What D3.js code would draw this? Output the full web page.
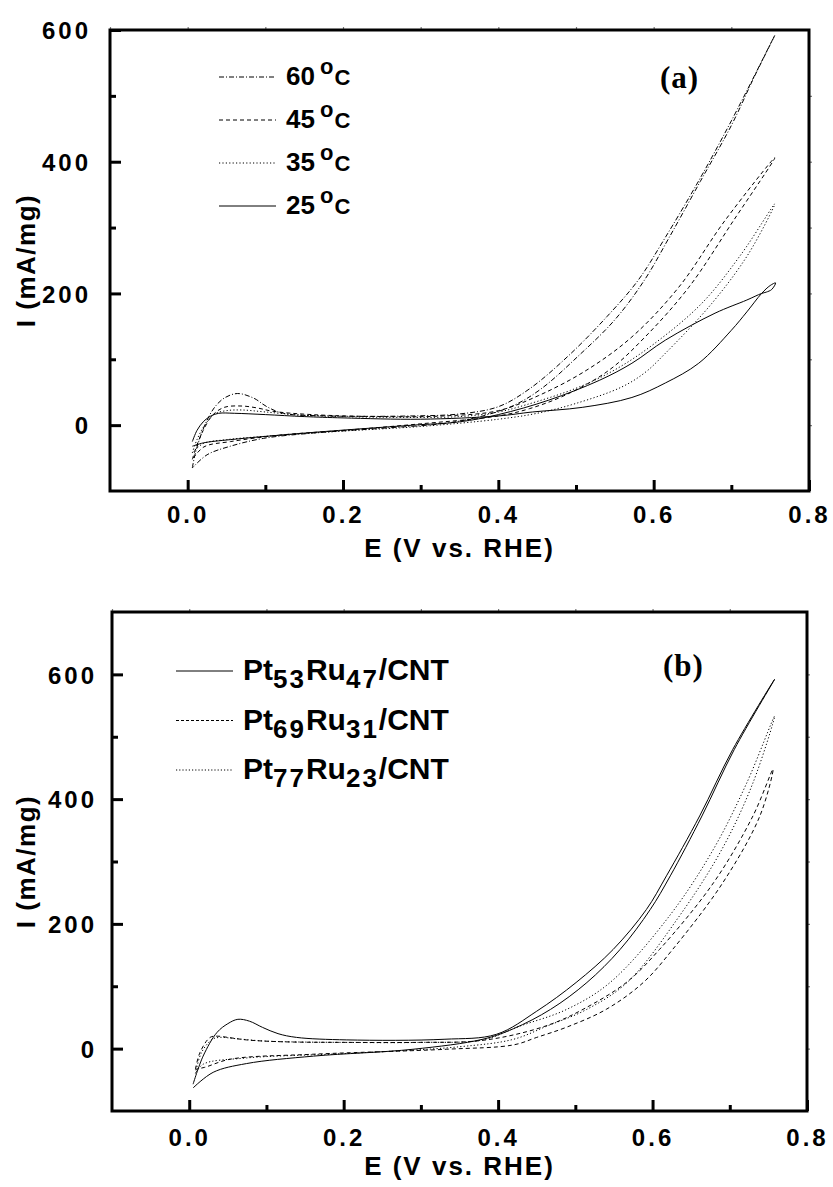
<!DOCTYPE html>
<html>
<head>
<meta charset="utf-8">
<script src="https://cdn.jsdelivr.net/npm/d3@7"></script>
<style>
body { margin: 0; background: #fff; }
svg text { font-family: Arial, "Liberation Sans", sans-serif; font-weight: bold; fill: #000; }
</style>
</head>
<body>
<svg width="833" height="1187"></svg>
<script>
const svg = d3.select("svg")

// ---- panel (a): CV loops at different temperatures, points are [E, I]
const tempLabels = ["60", "45", "35", "25"]

const cv60 = [[0.006,-65],[0.010,-42],[0.021,-3],[0.034,26],[0.047,41],[0.064,48],[0.085,41],[0.102,28],[0.123,18],[0.18,14],[0.29,14],[0.35,17],[0.40,28],[0.44,55],[0.49,105],[0.54,165],[0.58,220],[0.615,285],[0.658,371],[0.70,462],[0.756,592],
  [0.73,530],[0.70,455],[0.66,370],[0.62,285],[0.588,220],[0.55,160],[0.503,105],[0.455,55],[0.42,30],[0.38,14],[0.333,3],[0.247,-5],[0.162,-12],[0.098,-20],[0.055,-32],[0.025,-45],[0.006,-65]]

const cv45 = [[0.006,-52],[0.012,-30],[0.02,-8],[0.032,15],[0.047,27],[0.07,29],[0.09,26],[0.11,21],[0.16,16],[0.25,13],[0.33,14],[0.40,22],[0.452,45],[0.513,83],[0.572,134],[0.632,209],[0.692,311],[0.756,406],
  [0.703,311],[0.645,209],[0.589,134],[0.542,83],[0.487,46],[0.44,25],[0.40,14],[0.30,2],[0.20,-8],[0.12,-15],[0.055,-25],[0.021,-33],[0.006,-52]]

const cv35 = [[0.006,-42],[0.012,-22],[0.022,0],[0.035,17],[0.05,22],[0.07,23],[0.10,20],[0.15,15],[0.25,12],[0.35,13],[0.40,20],[0.436,31],[0.50,56],[0.55,84],[0.60,123],[0.662,185],[0.713,260],[0.756,336],
  [0.722,260],[0.675,185],[0.615,109],[0.589,80],[0.559,58],[0.50,33],[0.45,18],[0.40,9],[0.30,-2],[0.20,-9],[0.10,-17],[0.05,-22],[0.02,-28],[0.006,-42]]

const cv25 = [[0.006,-25],[0.012,-8],[0.02,5],[0.03,14],[0.04,18],[0.06,18],[0.10,16],[0.15,13],[0.20,11],[0.30,9],[0.40,14],[0.444,20],[0.508,27],[0.572,42],[0.615,64],[0.658,94],[0.70,144],[0.72,172],[0.739,200],[0.75,212],[0.757,216],
  [0.752,206],[0.745,202],[0.739,200],[0.72,190],[0.679,170],[0.615,129],[0.572,94],[0.53,68],[0.465,38],[0.40,16],[0.35,5],[0.29,0],[0.162,-11],[0.055,-22],[0.02,-27],[0.006,-32]]

// ---- panel (b): CV loops of the three catalysts
const alloyPt = ["53", "69", "77"]
const alloyRu = ["47", "31", "23"]

const cv53 = [[0.005,-57],[0.018,-12],[0.036,26],[0.05,40],[0.063,47],[0.078,44],[0.095,34],[0.115,24],[0.139,18],[0.204,14],[0.33,15],[0.398,23],[0.45,60],[0.501,106],[0.549,159],[0.592,223],[0.618,277],[0.661,373],[0.704,480],[0.758,592],
  [0.706,480],[0.664,373],[0.623,277],[0.597,223],[0.558,159],[0.515,106],[0.468,63],[0.42,32],[0.38,15],[0.29,-1],[0.161,-12],[0.074,-24],[0.031,-38],[0.005,-63]]

const cv69 = [[0.008,-33],[0.014,-6],[0.027,18],[0.036,20],[0.05,18],[0.074,14],[0.12,11],[0.2,10],[0.3,10],[0.37,12],[0.42,22],[0.47,40],[0.51,63],[0.566,106],[0.609,159],[0.679,266],[0.73,373],[0.756,448],
  [0.739,373],[0.691,266],[0.626,159],[0.588,106],[0.54,63],[0.49,35],[0.45,18],[0.42,6],[0.333,-1],[0.16,-9],[0.053,-17],[0.02,-30],[0.008,-33]]

const cv77 = [[0.008,-40],[0.016,-6],[0.03,15],[0.04,18],[0.06,16],[0.1,12],[0.2,10],[0.3,10],[0.38,14],[0.428,36],[0.489,63],[0.545,106],[0.622,213],[0.679,320],[0.722,426],[0.758,533],
  [0.73,426],[0.69,320],[0.635,213],[0.567,106],[0.515,63],[0.463,36],[0.42,15],[0.35,3],[0.2,-8],[0.074,-15],[0.018,-25],[0.008,-40]]

// ticks
const xMajor = [0, 0.2, 0.4, 0.6, 0.8]
const xMinor = [0.1, 0.3, 0.5, 0.7]
const xSmall = [-0.1, 0, 0.1, 0.2, 0.3, 0.4, 0.5, 0.6, 0.7]
const yMajor = [0, 200, 400, 600]
const yMinor = [100, 300, 500]
const ySmallA = [0, 100, 200, 300, 400, 500]
const ySmallB = [0, 100, 200, 300, 400, 500, 600]


function drawPanel(p) {
	const x = d3.scaleLinear().domain([-0.1, 0.8]).range([p.left, p.right])
	const y = d3.scaleLinear().domain(p.yDomain).range([p.bottom, p.top])
	const g = svg.append("g")

	//curves
	const line = d3.line()
		.x(d => x(d[0]))
		.y(d => y(d[1]))
		.curve(d3.curveCatmullRom.alpha(0.5))

	g.selectAll("path.cv")
		.data(p.curves)
		.enter()
		.append("path")
		.attr("class", "cv")
		.attr("d", line)
		.attr("fill", "none")
		.attr("stroke", "#000")
		.attr("stroke-width", 1)
		.attr("stroke-dasharray", (d, i) => p.dashes[i])

	//small marks on top and right
	g.append("g")
		.attr("transform", `translate(0,${p.top})`)
		.call(d3.axisTop(x).tickValues(xSmall).tickSize(3).tickFormat(""))
	g.append("g")
		.attr("transform", `translate(${p.right},0)`)
		.call(d3.axisRight(y).tickValues(p.ySmall).tickSize(3).tickFormat(""))
	g.selectAll(".tick line").attr("stroke", "#777").attr("stroke-width", 1.2)

	//bottom axis
	const xb = g.append("g")
		.attr("transform", `translate(0,${p.bottom})`)
		.call(d3.axisBottom(x).tickValues(xMajor).tickSize(-11).tickFormat(d3.format(".1f")))
	g.append("g")
		.attr("transform", `translate(0,${p.bottom})`)
		.call(d3.axisBottom(x).tickValues(xMinor).tickSize(-6).tickFormat(""))
		.selectAll(".tick line").attr("stroke-width", 3)
	xb.selectAll(".tick line").attr("stroke-width", 3)
	xb.selectAll("text")
		.attr("y", p.xLabelY)
		.attr("dy", 0)
		.attr("font-size", 24)
		.style("letter-spacing", "3px")

	//left axis
	const yl = g.append("g")
		.attr("transform", `translate(${p.left},0)`)
		.call(d3.axisLeft(y).tickValues(yMajor).tickSize(-11).tickFormat(d3.format("d")))
	g.append("g")
		.attr("transform", `translate(${p.left},0)`)
		.call(d3.axisLeft(y).tickValues(yMinor).tickSize(-6).tickFormat(""))
		.selectAll(".tick line").attr("stroke-width", 3)
	yl.selectAll(".tick line").attr("stroke-width", 3)
	yl.selectAll("text")
		.attr("x", -p.yLabelGap)
		.attr("dy", "0.36em")
		.attr("font-size", 24)
		.style("letter-spacing", "3px")

	g.selectAll(".domain").remove()
	g.selectAll("g").attr("font-family", null).attr("font-size", null)

	//frame
	g.append("rect")
		.attr("x", p.left)
		.attr("y", p.top)
		.attr("width", p.right - p.left)
		.attr("height", p.bottom - p.top)
		.attr("fill", "none")
		.attr("stroke", "#000")
		.attr("stroke-width", 3)

	//axis titles
	g.append("text")
		.attr("x", (p.left + p.right) / 2)
		.attr("y", p.xTitleY)
		.attr("text-anchor", "middle")
		.attr("font-size", 26)
		.style("letter-spacing", "2px")
		.text("E (V vs. RHE)")

	g.append("text")
		.attr("transform", `translate(35,${(p.top + p.bottom) / 2}) rotate(-90)`)
		.attr("text-anchor", "middle")
		.attr("font-size", 26)
		.style("letter-spacing", "1.5px")
		.text("I (mA/mg)")

	//panel letter
	g.append("text")
		.attr("x", p.tagX)
		.attr("y", p.tagY)
		.attr("font-size", 31)
		.style("font-family", "'Times New Roman', 'Liberation Serif', serif")
		.style("letter-spacing", "1px")
		.text(p.tag)

	return g
}


//panel (a)
const ga = drawPanel({
	left: 110, right: 809, top: 30, bottom: 491,
	yDomain: [-100, 600], ySmall: ySmallA,
	curves: [cv60, cv45, cv35, cv25],
	dashes: ["5,2,1,2", "4,3", "1.2,2.2", null],
	xLabelY: 32, yLabelGap: 19, xTitleY: 557,
	tag: "(a)", tagX: 660, tagY: 88
})

const legA = ga.selectAll("g.leg")
	.data(tempLabels)
	.enter()
	.append("g")
	.attr("class", "leg")
	.attr("transform", (d, i) => `translate(0,${77 + i * 43})`)

legA.append("line")
	.attr("x1", 219).attr("x2", 276)
	.attr("stroke", "#000").attr("stroke-width", 1)
	.attr("stroke-dasharray", (d, i) => ["5,2,1,2", "4,3", "1.2,2.2", null][i])

const legAText = legA.append("text").attr("x", 286).attr("y", 8)
legAText.append("tspan").attr("font-size", 26).text(d => d)
legAText.append("tspan").attr("font-size", 22).attr("dx", 5).attr("dy", -11).text("o")
legAText.append("tspan").attr("font-size", 22).attr("dx", 1).attr("dy", 11).text("C")


//panel (b)
const gb = drawPanel({
	left: 112, right: 807, top: 612, bottom: 1111,
	yDomain: [-100, 700], ySmall: ySmallB,
	curves: [cv53, cv69, cv77],
	dashes: [null, "4,3", "1.2,2.2"],
	xLabelY: 35, yLabelGap: 15, xTitleY: 1175,
	tag: "(b)", tagX: 663, tagY: 676
})

const legB = gb.selectAll("g.leg")
	.data(alloyPt)
	.enter()
	.append("g")
	.attr("class", "leg")
	.attr("transform", (d, i) => `translate(0,${671 + i * 49.5})`)

legB.append("line")
	.attr("x1", 176).attr("x2", 233)
	.attr("stroke", "#000").attr("stroke-width", 1)
	.attr("stroke-dasharray", (d, i) => [null, "3,2", "1.2,2"][i])

const legBText = legB.append("text").attr("x", 243).attr("y", 9).attr("font-size", 30)
legBText.append("tspan").text("Pt")
legBText.append("tspan").attr("font-size", 26).attr("dy", 8).style("letter-spacing", "2px").text(d => d)
legBText.append("tspan").attr("dy", -8).text("Ru")
legBText.append("tspan").attr("font-size", 26).attr("dy", 8).style("letter-spacing", "2px").text((d, i) => alloyRu[i])
legBText.append("tspan").attr("dy", -8).text("/CNT")
</script>
</body>
</html>
